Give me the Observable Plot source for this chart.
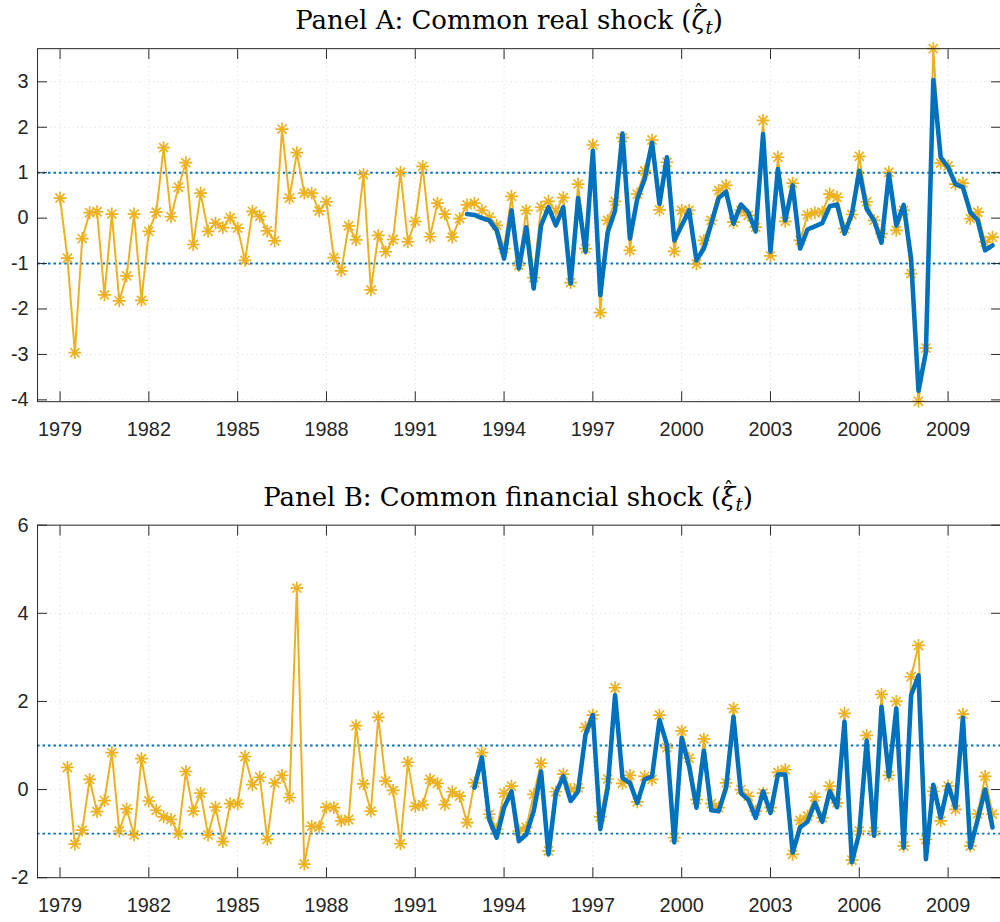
<!DOCTYPE html>
<html><head><meta charset="utf-8">
<script src="https://cdn.jsdelivr.net/npm/d3@7"></script>
<script src="https://cdn.jsdelivr.net/npm/@observablehq/plot@0.6"></script>
<style>
html,body{margin:0;padding:0;background:#fff;overflow:hidden}
#root{position:relative;width:1000px;height:922px;overflow:hidden;background:#fff}
.panel{position:absolute;left:0}
</style></head><body>
<div id="root">
<div id="pa" class="panel" style="top:0"></div>
<div id="pb" class="panel" style="top:477px"></div>
<svg id="titles" width="1000" height="922" style="position:absolute;left:0;top:0;pointer-events:none">
  <text x="509" y="29" text-anchor="middle" font-family="DejaVu Serif" font-size="26" fill="#000">Panel A: Common real shock (<tspan font-style="italic">ζ</tspan><tspan dx="-12" dy="-9" font-size="20">ˆ</tspan><tspan font-style="italic" font-size="18" dx="2" dy="14">t</tspan><tspan dy="-5">)</tspan></text>
  <text x="508" y="506" text-anchor="middle" font-family="DejaVu Serif" font-size="26" fill="#000">Panel B: Common financial shock (<tspan font-style="italic">ξ</tspan><tspan dx="-12" dy="-9" font-size="20">ˆ</tspan><tspan font-style="italic" font-size="18" dx="2" dy="14">t</tspan><tspan dy="-5">)</tspan></text>
</svg>
</div>
<script>
// ---------- data (quarterly) ----------
const realStart = 1979.0;      // first quarter of the real-shock estimate
const realBlueStart = 1992.75; // first quarter of the second real-shock series
const finStart = 1979.25;      // first quarter of the financial-shock estimate
const finBlueStart = 1993.0;   // first quarter of the second financial-shock series

const realYellow = [
  0.44,-0.88,-2.96,-0.45,0.12,0.14,-1.69,0.09,-1.82,-1.27,
  0.09,-1.81,-0.29,0.13,1.55,0.03,0.68,1.22,-0.58,0.55,
  -0.29,-0.11,-0.21,0.01,-0.22,-0.93,0.15,0.04,-0.28,-0.50,
  1.96,0.44,1.44,0.55,0.55,0.16,0.36,-0.87,-1.16,-0.17,
  -0.48,0.96,-1.58,-0.38,-0.74,-0.47,1.01,-0.52,-0.07,1.14,
  -0.41,0.33,0.09,-0.42,-0.01,0.29,0.33,0.17,0.02,-0.16,
  -0.67,0.48,-1.04,0.17,-1.31,0.24,0.37,0.15,0.45,-1.42,
  0.75,-0.67,1.61,-2.08,-0.05,0.37,1.77,-0.71,0.53,1.04,
  1.72,0.18,1.23,-0.73,0.17,0.17,-1.01,-0.49,-0.05,0.61,
  0.72,-0.09,0.17,0.06,-0.20,2.15,-0.83,1.34,-0.07,0.77,
  -0.49,0.07,0.12,0.13,0.53,0.46,-0.23,0.08,1.36,0.36,
  -0.05,-0.34,1.01,-0.27,0.17,-1.22,-4.03,-2.86,3.73,1.21,
  1.15,0.75,0.77,-0.01,0.13,-0.53,-0.42
];
const realBlue = [
  0.09,0.07,0.00,-0.05,-0.27,-0.89,0.17,-1.11,-0.20,-1.55,
  -0.16,0.24,-0.16,0.24,-1.44,0.44,-0.74,1.48,-1.69,-0.31,
  0.17,1.86,-0.45,0.42,0.86,1.66,0.31,1.34,-0.49,-0.16,
  0.17,-0.93,-0.67,-0.12,0.44,0.58,-0.12,0.30,0.13,-0.29,
  1.85,-0.74,1.08,-0.05,0.72,-0.67,-0.25,-0.18,-0.11,0.26,
  0.30,-0.34,0.09,1.04,0.20,-0.05,-0.54,0.97,-0.16,0.29,
  -0.89,-3.80,-2.95,3.04,1.34,1.12,0.75,0.68,0.13,-0.05,
  -0.71,-0.60
];
const finYellow = [
  0.50,-1.24,-0.92,0.23,-0.50,-0.25,0.84,-0.94,-0.44,-1.03,
  0.70,-0.26,-0.47,-0.62,-0.68,-1.00,0.41,-0.49,-0.08,-1.03,
  -0.40,-1.18,-0.32,-0.32,0.75,0.11,0.28,-1.13,0.15,0.32,
  -0.18,4.57,-1.69,-0.83,-0.85,-0.40,-0.41,-0.71,-0.68,1.45,
  0.13,-0.49,1.64,0.19,-0.02,-1.23,0.62,-0.38,-0.34,0.23,
  0.14,-0.34,-0.05,-0.15,-0.75,0.15,0.84,-0.56,-0.90,-0.08,
  0.08,-0.94,-0.86,-0.11,0.60,-1.39,-0.05,0.35,0.00,0.04,
  1.41,1.69,-0.62,0.24,2.31,0.14,0.32,-0.28,0.30,0.23,
  1.69,0.95,-1.09,1.33,0.71,-0.23,1.15,-0.32,-0.41,0.15,
  1.84,0.00,-0.15,-0.49,-0.08,-0.41,0.39,0.45,-1.47,-0.70,
  -0.60,-0.17,-0.64,0.08,-0.30,1.73,-1.60,-0.94,1.23,-0.95,
  2.16,0.32,2.00,-1.28,2.56,3.27,-1.13,-0.04,-0.71,0.08,
  -0.45,1.71,-1.28,-0.55,0.30,-0.56
];
const finBlue = [
  0.04,0.73,-0.68,-1.09,-0.41,-0.04,-1.17,-1.02,-0.49,0.41,
  -1.47,-0.08,0.30,-0.26,-0.04,1.24,1.69,-0.90,0.04,2.14,
  0.26,0.15,-0.30,0.23,0.30,1.58,1.02,-1.20,1.17,0.53,
  -0.41,0.88,-0.47,-0.49,0.04,1.65,-0.08,-0.23,-0.64,-0.04,
  -0.53,0.34,0.34,-1.43,-0.86,-0.73,-0.30,-0.73,-0.04,-0.40,
  1.54,-1.65,-0.98,1.11,-1.05,1.88,0.30,1.84,-1.32,2.14,
  2.59,-1.58,0.11,-0.64,0.11,-0.41,1.63,-1.32,-0.68,0.00,
  -0.86
];
const xTicks = [1979,1982,1985,1988,1991,1994,1997,2000,2003,2006,2009];
const yTicksA = [-4,-3,-2,-1,0,1,2,3];
const yTicksB = [-2,0,2,4,6];
const bands = [-1, 1];

// ---------- styling ----------
const YELLOW = "#EDB120", BLUE = "#0072BD", AX = "#262626";
const toRows = (vals, start) => vals.map((v, k) => ({date: start + k / 4, value: v}));

// MATLAB-style '*' marker (plus + cross)
const star8 = {
  draw(ctx, size) {
    const r = Math.sqrt(size / Math.PI), d = r * Math.SQRT1_2;
    ctx.moveTo(-r, 0); ctx.lineTo(r, 0);
    ctx.moveTo(0, -r); ctx.lineTo(0, r);
    ctx.moveTo(-d, -d); ctx.lineTo(d, d);
    ctx.moveTo(-d, d); ctx.lineTo(d, -d);
  }
};

function panel(yellowVals, yStart, blueVals, bStart, yDomain, yTicks, mTop, mBottom, h) {
  const yel = toRows(yellowVals, yStart);
  const blu = toRows(blueVals, bStart);
  const font = {fontSize: 20, fontFamily: "Liberation Sans, Arial, sans-serif"};
  return Plot.plot({
    width: 1007, height: h,
    marginTop: mTop, marginBottom: mBottom, marginLeft: 37.3, marginRight: 0,
    style: {color: AX, background: "transparent", overflow: "visible"},
    x: {domain: [1978.24, 2010.77]},
    y: {domain: yDomain},
    marks: [
      Plot.gridX(xTicks, {stroke: AX, strokeOpacity: 0.18, strokeDasharray: "1,3.5"}),
      Plot.gridY(yTicks, {stroke: AX, strokeOpacity: 0.18, strokeDasharray: "1,3.5"}),
      Plot.ruleY(bands, {stroke: BLUE, strokeWidth: 2, strokeDasharray: "2.5,3"}),
      Plot.line(yel, {x: "date", y: "value", stroke: YELLOW, strokeWidth: 2}),
      Plot.dot(yel, {x: "date", y: "value", symbol: star8, r: 6.5, stroke: YELLOW, strokeWidth: 1.7, fill: "none"}),
      Plot.line(blu, {x: "date", y: "value", stroke: BLUE, strokeWidth: 4.6, strokeLinejoin: "round", strokeLinecap: "round"}),
      Plot.frame({stroke: AX, strokeWidth: 1}),
      // inward ticks on all four sides
      Plot.axisX(xTicks, {anchor: "bottom", label: null, tickSize: 10, dy: -10, tickFormat: () => "", stroke: AX}),
      Plot.axisX(xTicks, {anchor: "top", label: null, tickSize: 10, dy: 10, tickFormat: () => "", stroke: AX}),
      Plot.axisY(yTicks, {anchor: "left", label: null, tickSize: 10, dx: 10, tickFormat: () => "", stroke: AX}),
      Plot.axisY(yTicks, {anchor: "right", label: null, tickSize: 10, dx: -10, tickFormat: () => "", stroke: AX}),
      // labels
      Plot.axisX(xTicks, {anchor: "bottom", label: null, tickSize: 0, tickPadding: 20, tickFormat: d => String(d), fill: AX, ...font}),
      Plot.axisY(yTicks, {anchor: "left", label: null, tickSize: 0, tickPadding: 9, tickFormat: d => String(d), fill: AX, ...font})
    ]
  });
}

document.getElementById("pa").append(
  panel(realYellow, realStart, realBlue, realBlueStart, [-4.04, 3.73], yTicksA, 48.5, 46, 450)
);
document.getElementById("pb").append(
  panel(finYellow, finStart, finBlue, finBlueStart, [-2, 6], yTicksB, 48, 42, 445)
);
</script>
</body></html>
